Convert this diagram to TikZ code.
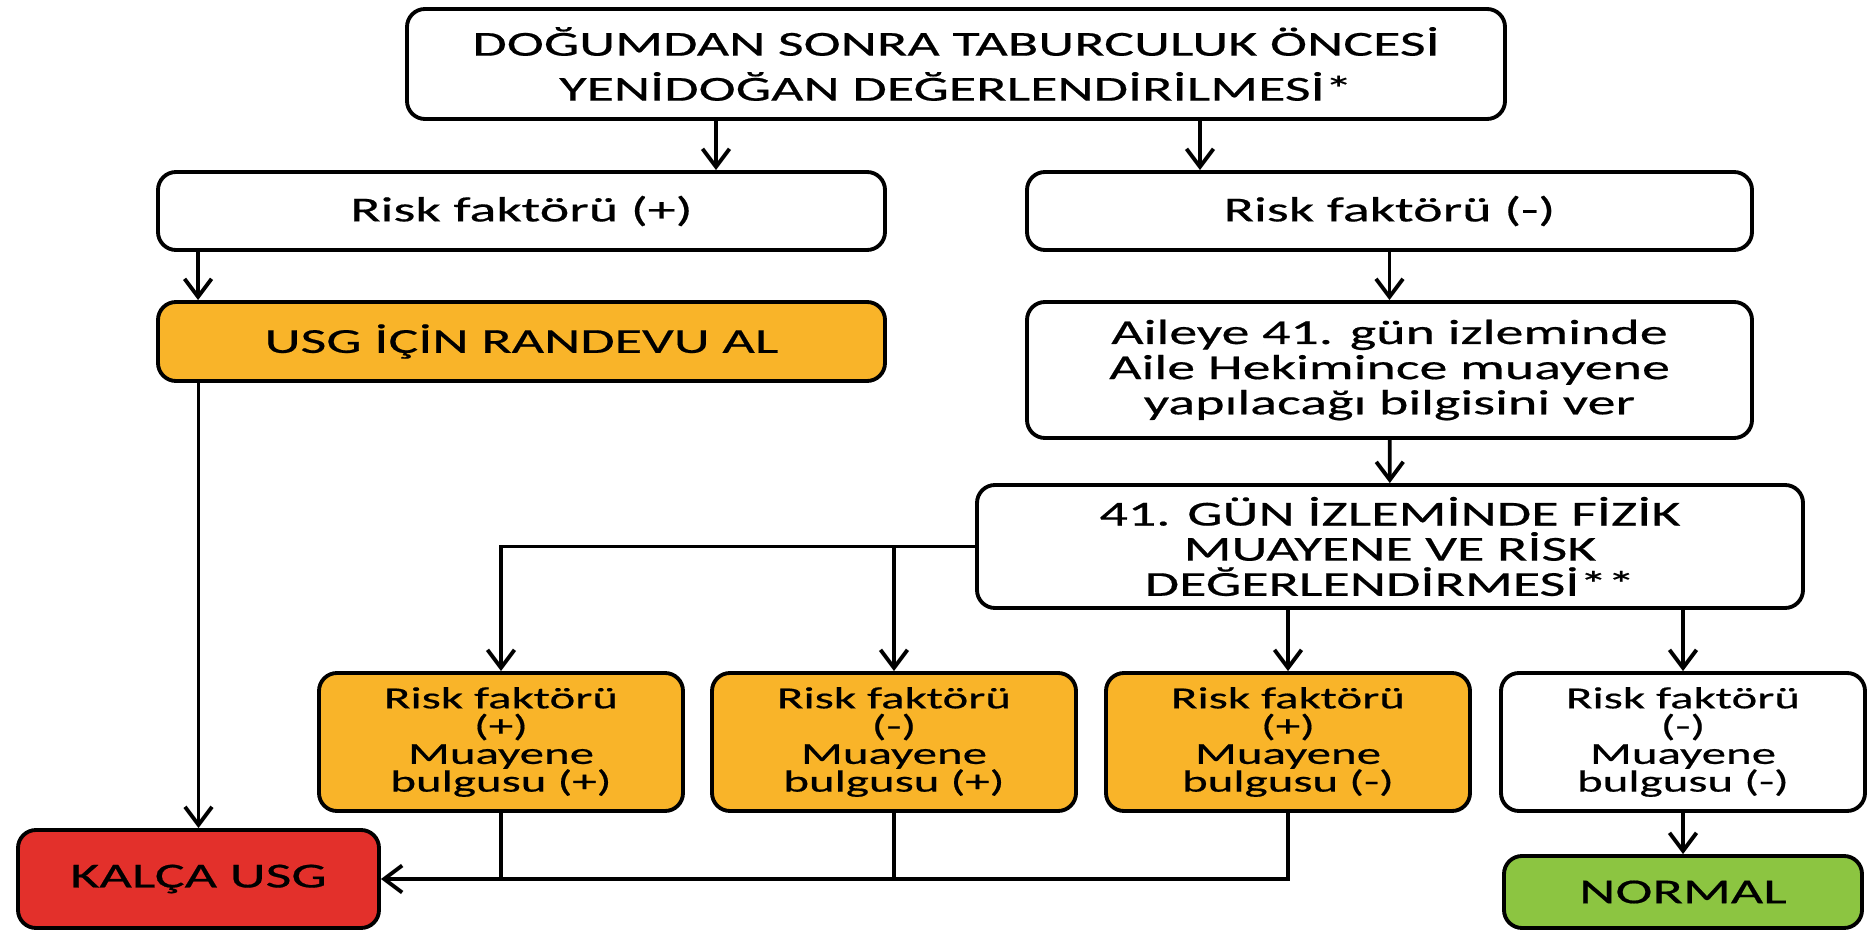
\documentclass[tikz,border=0pt]{standalone}
\usepackage{fontspec}
\setmainfont{Carlito}[FakeStretch=1.6, FakeBold=0.5]
\usetikzlibrary{arrows.meta}
\definecolor{boxorange}{HTML}{F9B429}
\definecolor{boxred}{HTML}{E3302B}
\definecolor{boxgreen}{HTML}{8CC541}
\tikzset{
  box/.style={draw, line width=1.1pt, rounded corners=0.18cm, align=center, inner sep=0pt,
    font=\fontsize{9.96}{10}\selectfont},
  smallbox/.style={box, minimum width=3.64cm, minimum height=1.38cm,
    font=\fontsize{8.7}{7.9}\selectfont},
  arr/.style={line width=1.1pt, -{Straight Barb[length=0.18cm, width=0.27cm, line width=1.1pt]}},
  link/.style={line width=1.1pt}
}
\begin{document}
\lineskiplimit=-5pt
\begin{tikzpicture}
\useasboundingbox (0,0) rectangle (18.7,-9.33);

\node[box, minimum width=10.98cm, minimum height=1.10cm, font=\fontsize{9.96}{12.8}\selectfont] (top) at (9.56,-0.64) {DOĞUMDAN SONRA TABURCULUK ÖNCESİ\\YENİDOĞAN DEĞERLENDİRİLMESİ*};

\node[box, minimum width=7.27cm, minimum height=0.78cm] (riskp) at (5.215,-2.11) {Risk faktörü (+)};
\node[box, minimum width=7.25cm, minimum height=0.78cm] (riskn) at (13.895,-2.11) {Risk faktörü (-)};

\node[box, fill=boxorange, minimum width=7.27cm, minimum height=0.79cm] (randevu) at (5.215,-3.415) {USG İÇİN RANDEVU AL};
\node[box, minimum width=7.25cm, minimum height=1.36cm] (aileye) at (13.895,-3.70) {Aileye 41. gün izleminde\\Aile Hekimince muayene\\yapılacağı bilgisini ver};

\node[box, minimum width=8.26cm, minimum height=1.23cm] (gun41) at (13.90,-5.465) {41. GÜN İZLEMİNDE FİZİK\\MUAYENE VE RİSK\\DEĞERLENDİRMESİ**};

\node[smallbox, fill=boxorange] (b1) at (5.01,-7.42) {Risk faktörü\\{(+)}\\Muayene\\bulgusu (+)};
\node[smallbox, fill=boxorange] (b2) at (8.94,-7.42) {Risk faktörü\\{(-)}\\Muayene\\bulgusu (+)};
\node[smallbox, fill=boxorange] (b3) at (12.88,-7.42) {Risk faktörü\\{(+)}\\Muayene\\bulgusu (-)};
\node[smallbox] (b4) at (16.83,-7.42) {Risk faktörü\\{(-)}\\Muayene\\bulgusu (-)};

\node[box, fill=boxred, minimum width=3.61cm, minimum height=0.98cm] (kalca) at (1.985,-8.79) {KALÇA USG};
\node[box, fill=boxgreen, minimum width=3.58cm, minimum height=0.72cm] (normal) at (16.83,-8.92) {NORMAL};

\coordinate (s1) at ([xshift=1.945cm]riskp.north);
\coordinate (s2) at ([xshift=-1.895cm]riskn.north);
\coordinate (s3) at ([xshift=0.42cm]randevu.north west);

\draw[arr] (top.south -| s1) -- (s1);
\draw[arr] (top.south -| s2) -- (s2);
\draw[arr] (riskp.south -| s3) -- (s3);
\draw[arr] (randevu.south -| kalca.north) -- (kalca.north);
\draw[arr] (riskn) -- (aileye);
\draw[arr] (aileye) -- (gun41);
\draw[arr] (gun41.west) -| (b1.north);
\draw[arr] (gun41.west -| b2.north) -- (b2.north);
\draw[arr] (gun41.south -| b3.north) -- (b3.north);
\draw[arr] (gun41.south -| b4.north) -- (b4.north);
\draw[arr] (b4) -- (normal);
\draw[arr] (b3.south) |- (kalca.east);
\draw[link] (b1.south) -- (b1.south |- kalca.east);
\draw[link] (b2.south) -- (b2.south |- kalca.east);
\end{tikzpicture}
\end{document}
